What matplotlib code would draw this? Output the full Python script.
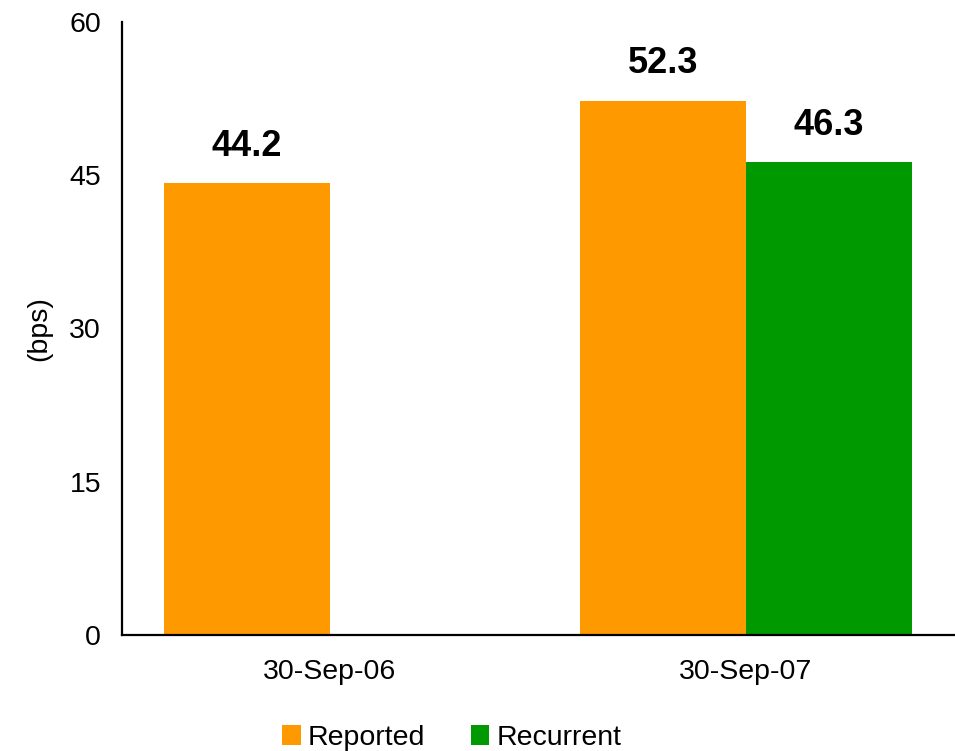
import numpy as np
import matplotlib
matplotlib.use("Agg")
import matplotlib.pyplot as plt

plt.rcParams['font.family'] = ['Liberation Sans', 'DejaVu Sans']

# quarterly figures, in basis points
periods = ["30-Sep-06", "30-Sep-07"]
reported = [44.2, 52.3]
recurrent = [np.nan, 46.3]   # no recurrent figure for the earlier quarter

ORANGE = "#FF9900"
GREEN = "#009900"

fig = plt.figure(figsize=(9.55, 7.51), dpi=100)
ax = fig.add_axes([0.1277, 0.1545, 0.8712, 0.8162])

x = np.arange(len(periods))
w = 0.4
b1 = ax.bar(x - w / 2, reported, w, color=ORANGE, label="Reported")
b2 = ax.bar(x + w / 2, recurrent, w, color=GREEN, label="Recurrent")

for bars, vals in ((b1, reported), (b2, recurrent)):
    for rect, v in zip(bars, vals):
        if np.isnan(v):
            continue
        ax.annotate(f"{v:.1f}", (rect.get_x() + rect.get_width() / 2, v),
                    xytext=(0, 14), textcoords="offset points",
                    ha="center", va="bottom", fontsize=26, fontweight="bold")

ax.set_ylim(0, 60)
ax.set_yticks([0, 15, 30, 45, 60])
ax.set_xlim(-0.5, 1.5)
ax.set_xticks(x)
ax.set_xticklabels(periods)
ax.tick_params(axis="both", length=0, labelsize=20.5)
ax.tick_params(axis="y", pad=15)
ax.tick_params(axis="x", pad=17)
ax.set_ylabel("(bps)", fontsize=20.5, labelpad=12)

for s in ("top", "right"):
    ax.spines[s].set_visible(False)
for s in ("left", "bottom"):
    ax.spines[s].set_linewidth(1.6)

fig.legend(handles=[b1, b2], loc="center", bbox_to_anchor=(452 / 955, 1 - 738 / 751),
           ncol=2, frameon=False, fontsize=20.5, handlelength=0.65, handleheight=0.65,
           handletextpad=0.25, columnspacing=1.6)

fig.savefig("out.png", dpi=100)
